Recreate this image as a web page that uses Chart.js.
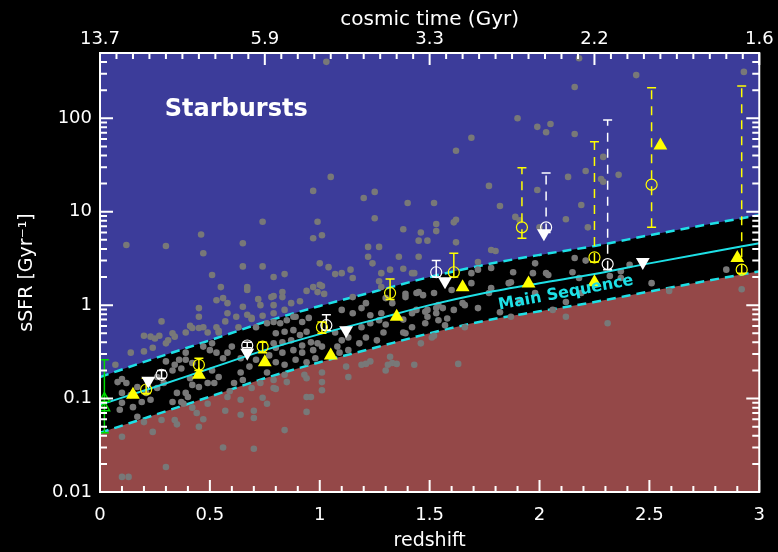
<!DOCTYPE html>
<html>
<head>
<meta charset="utf-8">
<script src="https://cdn.jsdelivr.net/npm/chart.js@4.4.1/dist/chart.umd.min.js"></script>
<style>
  html, body { margin: 0; padding: 0; background: #000; }
  #wrap { width: 778px; height: 552px; position: relative; }
</style>
</head>
<body>
<div id="wrap"><canvas id="c"></canvas></div>
<script>
// sSFR vs redshift - main sequence band, starbursts above, galaxies + stacked samples

// axes
const xTickValues = [0, 0.5, 1, 1.5, 2, 2.5, 3];
const xTickLabels = ['0', '0.5', '1', '1.5', '2', '2.5', '3'];
const topTickValues = [0, 0.75, 1.5, 2.25, 3];
const topTickLabels = ['13.7', '5.9', '3.3', '2.2', '1.6'];
const yTickValues = [0.01, 0.1, 1, 10, 100];
const yTickLabels = ['0.01', '0.1', '1', '10', '100'];

// main sequence (solid) and its x2 band (dashed)
const msRedshift = [0, 0.25, 0.5, 0.75, 1, 1.25, 1.5, 1.75, 2, 2.25, 2.5, 2.75, 3];
const msMid   = [0.086, 0.133, 0.21, 0.33, 0.49, 0.70, 1.0, 1.35, 1.72, 2.15, 2.8, 3.6, 4.6];
const msUpper = [0.17, 0.27, 0.42, 0.66, 0.98, 1.4, 2.0, 2.7, 3.45, 4.3, 5.6, 7.2, 9.2];
const msLower = [0.043, 0.067, 0.105, 0.165, 0.245, 0.35, 0.5, 0.68, 0.86, 1.08, 1.4, 1.8, 2.3];

// individual galaxies (grey dots): [redshift, sSFR]
const galaxies = [
  [0.12,4.4],[0.30,4.3],[0.46,5.7],[0.47,3.6],[0.51,2.1],[0.55,1.56],[0.56,1.19],[0.65,4.6],[0.65,2.6],[0.67,1.56],
  [0.67,1.45],[0.74,7.8],[0.74,2.6],[0.79,2.0],[0.84,2.15],[0.97,16.7],[0.99,7.8],[0.97,5.2],[1.01,5.6],[1.0,2.8],
  [1.05,23.6],[1.04,2.55],[1.07,2.15],[1.10,2.2],[1.14,2.4],[1.15,1.95],[1.20,14],[1.25,16.3],[1.25,8.5],[1.22,4.2],
  [1.22,3.3],[1.27,4.2],[1.24,2.8],[1.28,2.2],[1.36,3.3],[1.32,2.4],[1.40,12.4],[1.52,12.4],[1.53,7.4],[1.38,6.5],
  [1.46,6.0],[1.53,6.2],[1.45,4.9],[1.49,4.9],[1.45,3.3],[1.38,2.45],[1.42,2.2],[1.43,2.2],[1.27,1.8],[0.94,1.42],
  [0.97,1.56],[1.01,1.6],[0.83,1.38],[0.83,1.22],[0.99,1.38],
  [1.69,62],[1.62,45],[1.77,18.9],[1.82,11.5],[1.61,7.7],[1.62,8.2],[1.62,4.7],[1.90,100],[1.99,81],[2.05,87],
  [2.03,71],[2.16,68],[2.18,440],[2.44,290],[2.16,216],[2.93,314],[1.03,402],[2.29,38.6],[2.21,27.3],[2.28,22.4],
  [2.29,20.9],[2.36,24.8],[2.13,23.6],[1.99,17.1],[2.19,11.8],[1.89,8.8],[1.91,8.1],[2.12,8.3],[2.0,6.8],[2.22,6.8],
  [2.16,3.2],[2.21,3.0],[1.72,2.9],[1.78,2.5],[1.98,2.8],[1.88,2.25],[1.87,1.76],[1.69,2.2],[2.03,2.2],[2.04,2.1],
  [2.15,2.25],[2.32,2.05],[2.37,2.3],[1.60,1.45],[1.69,1.72],[1.78,1.52],[1.86,1.72],[1.56,0.93],[1.61,0.89],[1.66,1.0],
  [2.12,0.75],[2.31,0.64],[1.57,0.61],[1.78,3.9],[1.80,3.8],[2.41,2.7],[2.37,1.95],[2.51,1.72],[2.59,1.42],[2.85,2.4],
  [2.92,1.48],[2.18,1.95],[2.19,1.35],[2.12,1.08],[2.06,0.89],[1.97,2.2],[1.98,1.35],[1.91,1.13],[1.87,0.75],[1.82,0.84],
  [1.77,1.35],[1.72,0.93],[1.72,2.4],[1.65,1.05],[1.54,1.0],[1.48,0.85],[1.42,0.82],[1.52,1.35],[1.45,1.38],[1.47,1.28],
  [1.39,1.32],[1.28,1.56],[1.30,1.19],[1.28,0.82],[1.44,0.89],[1.53,0.82],[1.54,0.69],[1.38,0.51],[1.42,0.58],[1.39,1.22],
  [1.44,1.35],[1.33,1.05],[1.15,1.22],[1.21,1.05],[1.10,0.89],[1.15,0.82],[1.19,0.93],[1.23,0.78],[1.19,0.58],[1.23,0.64],
  [1.27,0.69],[1.21,0.45],[1.26,0.42],[1.29,0.51],[1.18,0.39],[1.08,0.36],[1.10,0.42],[1.13,0.45],[1.07,0.51],[1.13,0.33],
  [1.09,0.31],[1.12,0.22],
  [0.79,0.66],[0.82,0.64],[0.85,0.69],[0.89,0.75],[0.92,0.66],[0.95,0.73],[0.80,0.5],[0.84,0.52],[0.88,0.54],[0.91,0.48],
  [0.94,0.52],[0.79,0.39],[0.83,0.4],[0.87,0.42],[0.92,0.37],[0.96,0.4],[0.99,0.39],[0.83,0.31],[0.88,0.33],[0.92,0.31],
  [0.97,0.33],[1.01,0.36],[0.80,0.245],[0.84,0.23],[0.89,0.26],[0.94,0.245],[0.98,0.27],
  [0.53,1.13],[0.58,1.05],[0.72,1.16],[0.73,1.0],[0.45,0.93],[0.65,0.96],[0.45,0.75],[0.58,0.82],[0.57,0.67],[0.67,0.79],
  [0.69,0.71],[0.74,0.77],[0.28,0.67],[0.41,0.6],[0.42,0.57],[0.45,0.57],[0.47,0.58],[0.49,0.51],[0.53,0.58],[0.54,0.53],
  [0.39,0.51],[0.20,0.47],[0.23,0.46],[0.25,0.44],[0.27,0.47],[0.31,0.42],[0.34,0.46],[0.78,1.22],[0.79,1.25],[0.79,1.0],
  [0.79,0.82],[0.84,0.89],[0.87,1.05],[0.88,0.75],[0.91,1.1],[1.0,1.65],[1.02,1.32],[0.76,0.64],[0.71,0.58],[0.69,0.73],
  [0.63,0.58],[0.62,0.75],
  [0.14,0.31],[0.07,0.23],[0.20,0.32],[0.24,0.35],[0.30,0.39],[0.33,0.5],[0.51,0.39],[0.54,0.51],
  [0.08,0.15],[0.10,0.162],[0.12,0.147],[0.17,0.133],[0.10,0.115],[0.14,0.109],[0.10,0.09],[0.09,0.076],[0.15,0.081],[0.19,0.092],
  [0.21,0.115],[0.23,0.097],[0.26,0.13],[0.29,0.147],[0.26,0.17],[0.33,0.2],[0.34,0.23],[0.37,0.21],[0.36,0.26],[0.30,0.25],
  [0.39,0.31],[0.39,0.26],[0.42,0.24],[0.35,0.115],[0.39,0.115],[0.40,0.104],[0.33,0.092],[0.37,0.092],[0.45,0.133],[0.49,0.147],
  [0.51,0.2],[0.54,0.17],[0.52,0.147],[0.56,0.27],[0.58,0.31],[0.53,0.31],[0.50,0.33],[0.47,0.36],[0.41,0.165],[0.42,0.14],
  [0.59,0.12],[0.58,0.104],[0.61,0.147],[0.64,0.19],[0.65,0.158],[0.68,0.22],[0.71,0.26],[0.76,0.19],[0.79,0.158],[0.73,0.147],
  [0.69,0.13],[0.64,0.27],[0.60,0.36],[0.77,0.29],[0.80,0.35],
  [0.10,0.039],[0.20,0.056],[0.24,0.044],[0.28,0.059],[0.34,0.059],[0.35,0.053],[0.38,0.088],[0.42,0.08],[0.44,0.07],[0.45,0.05],
  [0.49,0.088],[0.57,0.074],[0.64,0.097],[0.70,0.074],[0.70,0.062],[0.74,0.102],[0.76,0.088],[0.80,0.127],[0.56,0.03],[0.70,0.029],
  [0.30,0.0185],[0.10,0.0145],[0.13,0.0145],[0.17,0.064],[0.84,0.046],[0.64,0.067],[0.94,0.104],[0.96,0.104],[1.01,0.123],[1.13,0.17],
  [1.19,0.23],[1.23,0.25],[1.30,0.2],[1.33,0.24],[0.47,0.06],[0.79,0.13],[0.84,0.18],[0.85,0.15],[0.93,0.18],[0.94,0.165],
  [1.01,0.19],[1.01,0.15],[0.94,0.072],[1.21,0.235],[1.31,0.23],[1.35,0.235],[1.43,0.23],[1.46,0.39],[1.51,0.45],[1.32,0.28],
  [1.63,0.235],[1.39,0.5],
  [1.38,0.7],[1.48,0.64],[1.58,0.72],[1.66,0.58],[1.30,0.62],[1.49,0.89],[1.49,0.75],[1.53,0.93],[1.52,0.47]
];

// stacked samples
const yellowTriZ = [0.15, 0.45, 0.75, 1.05, 1.35, 1.65, 1.95, 2.25, 2.55, 2.9];
const yellowTriS = [0.11, 0.18, 0.245, 0.29, 0.75, 1.55, 1.7, 1.76, 51, 3.2];

const whiteTriZ = [0.22, 0.67, 1.12, 1.57, 2.02, 2.47];
const whiteTriS = [0.155, 0.31, 0.54, 1.8, 5.9, 2.9];

const yellowCircZ  = [0.21, 0.45, 0.74, 1.01, 1.32, 1.61, 1.92, 2.25, 2.51, 2.92];
const yellowCircS  = [0.125, 0.23, 0.36, 0.58, 1.35, 2.25, 6.8, 3.25, 19.5, 2.4];
const yellowCircLo = [0.113, 0.2, 0.31, 0.5, 1.15, 2.0, 5.2, 2.9, 6.8, 2.2];
const yellowCircHi = [0.165, 0.27, 0.4, 0.66, 1.9, 3.6, 29.5, 56, 212, 222];
const yellowDashed = [false, false, false, false, false, false, true, true, true, true];

const whiteCircZ  = [0.28, 0.67, 1.03, 1.53, 2.03, 2.31];
const whiteCircS  = [0.18, 0.37, 0.61, 2.25, 6.8, 2.75];
const whiteCircLo = [0.165, 0.35, 0.54, 2.0, 6.0, 2.4];
const whiteCircHi = [0.2, 0.4, 0.79, 3.0, 26, 96];
const whiteDashed = [false, false, false, false, true, true];

const localZ = [0.02, 0.02];
const localS = [0.1, 0.08];
const localLo = [0.043];
const localHi = [0.26];

const BLUE = '#3c3c9a';
const BROWN = '#944848';
const CYAN = '#1ee0e6';
const YELLOW = '#ffff00';
const GREEN = '#00dd00';

const pts = (xs, ys) => xs.map((x, i) => ({ x, y: ys[i] }));

function errorBars(zs, lo, hi, dashed, color) {
    return zs.map((z, i) => ({
        type: 'line',
        data: [{ x: z, y: lo[i] }, { x: z, y: hi[i] }],
        borderColor: color,
        borderWidth: 1.5,
        borderDash: dashed[i] ? [9, 7] : [],
        pointStyle: 'line',
        pointRadius: 4.5,
        pointBorderColor: color,
        pointBorderWidth: 1.5,
        fill: false,
        order: 6
    }));
}

// fond noir sous tout le reste
const blackBackground = {
    id: 'blackBackground',
    beforeDraw(chart) {
        const { ctx, width, height } = chart;
        ctx.save();
        ctx.fillStyle = '#000';
        ctx.fillRect(0, 0, width, height);
        ctx.restore();
    }
};

// cadre + graduations vers l'intérieur (style IDL)
const frameTicks = {
    id: 'frameTicks',
    afterDraw(chart) {
        const { ctx, chartArea: a, scales } = chart;
        const x = scales.x, y = scales.y;
        ctx.save();
        ctx.strokeStyle = '#fff';
        ctx.lineWidth = 2;
        ctx.beginPath();
        for (let i = 0; i <= 30; i++) {
            const px = x.getPixelForValue(i / 10);
            const len = i % 5 === 0 ? 12 : 6;
            ctx.moveTo(px, a.bottom);
            ctx.lineTo(px, a.bottom - len);
        }
        for (let i = 0; i <= 40; i++) {
            const px = x.getPixelForValue(i * 0.075);
            const len = i % 10 === 0 ? 12 : 6;
            ctx.moveTo(px, a.top);
            ctx.lineTo(px, a.top + len);
        }
        for (let e = -2; e <= 2; e++) {
            for (let m = 1; m <= 9; m++) {
                const v = m * Math.pow(10, e);
                if (v > y.max) break;
                const py = y.getPixelForValue(v);
                const len = m === 1 ? 13 : 7;
                ctx.moveTo(a.left, py);
                ctx.lineTo(a.left + len, py);
                ctx.moveTo(a.right, py);
                ctx.lineTo(a.right - len, py);
            }
        }
        ctx.stroke();
        ctx.strokeRect(a.left, a.top, a.right - a.left, a.bottom - a.top);
        ctx.restore();
    }
};

// textes dans le graphe
const chartLabels = {
    id: 'chartLabels',
    afterDraw(chart) {
        const { ctx, scales } = chart;
        ctx.save();
        ctx.textAlign = 'center';
        ctx.textBaseline = 'middle';
        ctx.fillStyle = '#fff';
        ctx.font = 'bold 24px "DejaVu Sans"';
        ctx.fillText('Starbursts', scales.x.getPixelForValue(0.62), scales.y.getPixelForValue(123));

        ctx.translate(scales.x.getPixelForValue(2.12), scales.y.getPixelForValue(1.35));
        ctx.rotate(-10.5 * Math.PI / 180);
        ctx.fillStyle = CYAN;
        ctx.font = 'bold 16px "DejaVu Sans"';
        ctx.fillText('Main Sequence', 0, 0);
        ctx.restore();
    }
};

Chart.defaults.font.family = '"DejaVu Sans", sans-serif';
Chart.defaults.color = '#fff';

const datasets = [
    {
        data: pts(msRedshift, msUpper),
        borderColor: CYAN, borderWidth: 2.5, borderDash: [9, 6],
        backgroundColor: BLUE, fill: 'end',
        pointRadius: 0, cubicInterpolationMode: 'monotone', order: 20
    },
    {
        data: pts(msRedshift, msLower),
        borderColor: CYAN, borderWidth: 2.5, borderDash: [9, 6],
        backgroundColor: BROWN, fill: 'start',
        pointRadius: 0, cubicInterpolationMode: 'monotone', order: 19
    },
    {
        data: galaxies.map(g => ({ x: g[0], y: g[1] })),
        showLine: false,
        pointRadius: 3.3, pointBorderWidth: 0,
        pointBackgroundColor: '#787878', order: 15
    },
    {
        data: pts(msRedshift, msMid),
        borderColor: CYAN, borderWidth: 2,
        pointRadius: 0, cubicInterpolationMode: 'monotone', fill: false, order: 12
    },
    ...errorBars(yellowCircZ, yellowCircLo, yellowCircHi, yellowDashed, YELLOW),
    ...errorBars(whiteCircZ, whiteCircLo, whiteCircHi, whiteDashed, '#fff'),
    ...errorBars([localZ[0]], localLo, localHi, [false], GREEN),
    {
        data: pts(yellowCircZ, yellowCircS), showLine: false,
        pointStyle: 'circle', pointRadius: 5.5, pointBorderWidth: 1.2,
        pointBorderColor: YELLOW, pointBackgroundColor: 'rgba(0,0,0,0)', order: 4
    },
    {
        data: pts(whiteCircZ, whiteCircS), showLine: false,
        pointStyle: 'circle', pointRadius: 5.5, pointBorderWidth: 1.2,
        pointBorderColor: '#fff', pointBackgroundColor: 'rgba(0,0,0,0)', order: 4
    },
    {
        data: pts(localZ, localS), showLine: false,
        pointStyle: 'triangle', pointRadius: 6, pointBorderWidth: 1.5,
        pointBorderColor: GREEN, pointBackgroundColor: 'rgba(0,0,0,0)', order: 3
    },
    {
        data: pts(whiteTriZ, whiteTriS), showLine: false,
        pointStyle: 'triangle', rotation: 180, pointRadius: 8, pointBorderWidth: 0,
        pointBackgroundColor: '#fff', order: 2
    },
    {
        data: pts(yellowTriZ, yellowTriS), showLine: false,
        pointStyle: 'triangle', pointRadius: 8, pointBorderWidth: 0,
        pointBackgroundColor: YELLOW, order: 1
    }
];

new Chart(document.getElementById('c'), {
    type: 'line',
    data: { datasets },
    options: {
        responsive: true,
        maintainAspectRatio: false,
        animation: false,
        devicePixelRatio: 1,
        layout: { padding: { left: 0, right: 17, top: 0, bottom: 0 } },
        plugins: { legend: { display: false }, tooltip: { enabled: false } },
        scales: {
            x: {
                type: 'linear', position: 'bottom', min: 0, max: 3,
                grid: { display: false, drawTicks: false }, border: { display: false },
                afterBuildTicks: s => { s.ticks = xTickValues.map(v => ({ value: v })); },
                afterFit: s => { s.height = 60; },
                ticks: {
                    autoSkip: false, maxRotation: 0, padding: 13, color: '#fff',
                    font: { size: 18 },
                    callback: (v, i) => xTickLabels[i]
                },
                title: { display: true, text: 'redshift', color: '#fff', font: { size: 19 }, padding: 0 }
            },
            xTop: {
                type: 'linear', position: 'top', min: 0, max: 3,
                grid: { display: false, drawTicks: false }, border: { display: false },
                afterBuildTicks: s => { s.ticks = topTickValues.map(v => ({ value: v })); },
                afterFit: s => { s.height = 53; },
                ticks: {
                    autoSkip: false, maxRotation: 0, padding: 3, color: '#fff',
                    font: { size: 18 },
                    callback: (v, i) => topTickLabels[i]
                },
                title: { display: true, text: 'cosmic time (Gyr)', color: '#fff', font: { size: 20 }, padding: { top: 8, bottom: 0 } }
            },
            y: {
                type: 'logarithmic', position: 'left', min: 0.01, max: 500,
                grid: { display: false, drawTicks: false }, border: { display: false },
                afterBuildTicks: s => { s.ticks = yTickValues.map(v => ({ value: v })); },
                afterFit: s => { s.width = 100; },
                ticks: {
                    autoSkip: false, padding: 8, color: '#fff',
                    font: { size: 18 },
                    callback: (v, i) => yTickLabels[i]
                },
                title: { display: true, text: 'sSFR [Gyr\u207B\u00B9]', color: '#fff', font: { size: 19 }, padding: { top: 16, bottom: 0 } }
            }
        }
    },
    plugins: [blackBackground, frameTicks, chartLabels]
});
</script>
</body>
</html>
